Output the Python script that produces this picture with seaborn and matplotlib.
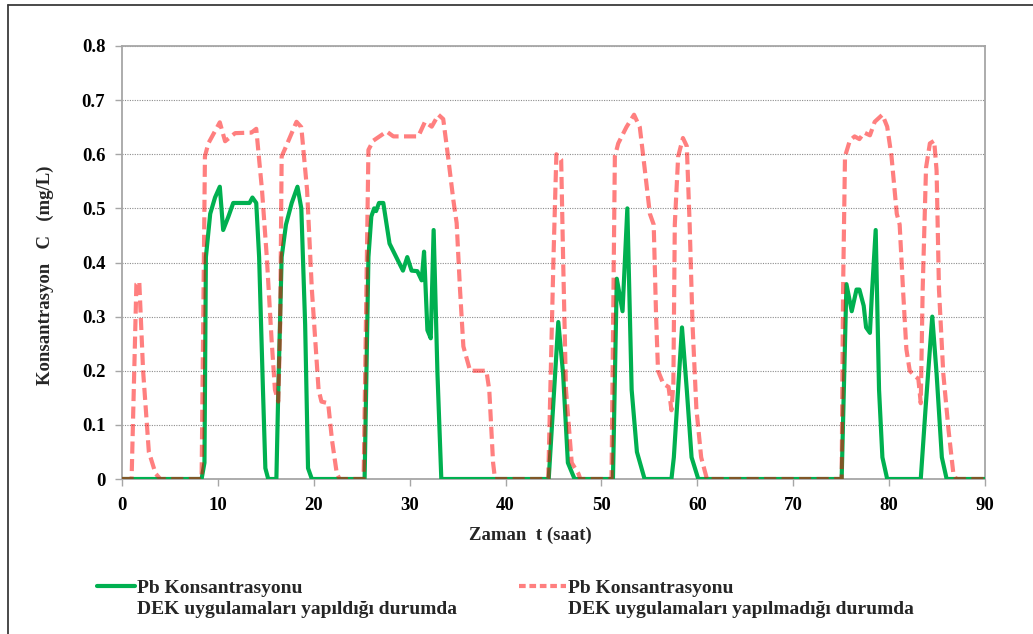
import matplotlib
matplotlib.use("Agg")
import matplotlib.pyplot as plt
import seaborn as sns
from matplotlib.lines import Line2D

# ---- data (time in hours, concentration in mg/L) ----
t_dek = [0, 8.3, 8.6, 8.75, 9.2, 9.7, 10.2, 10.55, 11.1, 11.6, 13.3, 13.6, 14.0, 14.3, 14.7, 14.95, 15.25,
         16.1, 16.3, 16.65, 17.1, 17.7, 18.3, 18.7, 19.1, 19.4, 19.8,
         25.3, 25.7, 26.0, 26.3, 26.5, 26.8, 27.25, 27.9, 28.6, 29.3, 29.75, 30.2, 30.8, 31.25, 31.5, 31.85, 32.2, 32.5, 32.9, 33.3,
         44.5, 45.5, 46.0, 46.5, 47.2,
         51.2, 51.6, 52.2, 52.7, 53.15, 53.7, 54.5,
         57.3, 57.55, 58.4, 58.9, 59.4, 60.1,
         75.05, 75.55, 76.1, 76.6, 76.9, 77.35, 77.6, 78.0, 78.2, 78.6, 78.95, 79.3, 79.8,
         83.3, 83.8, 84.5, 84.95, 85.5, 86.0, 90]
c_dek = [0, 0, 0.03, 0.41, 0.49, 0.52, 0.54, 0.46, 0.485, 0.51, 0.51, 0.52, 0.51, 0.41, 0.165, 0.02, 0,
         0, 0.165, 0.41, 0.47, 0.51, 0.54, 0.50, 0.285, 0.02, 0,
         0, 0.41, 0.485, 0.50, 0.495, 0.51, 0.51, 0.435, 0.41, 0.385, 0.41, 0.385, 0.384, 0.367, 0.42, 0.275, 0.26, 0.46, 0.194, 0,
         0, 0.29, 0.195, 0.03, 0,
         0, 0.37, 0.31, 0.50, 0.165, 0.05, 0,
         0, 0.04, 0.28, 0.165, 0.04, 0,
         0, 0.36, 0.31, 0.35, 0.35, 0.32, 0.28, 0.27, 0.34, 0.46, 0.165, 0.04, 0,
         0, 0.13, 0.30, 0.195, 0.04, 0, 0]

t_nodek = [0, 1.0, 1.5, 1.8, 2.2, 2.8, 3.5, 4.0,
           8.3, 8.65, 9.0, 10.2, 10.75, 11.8, 13.5, 14.0, 14.6, 15.1, 15.6, 15.95, 16.3, 16.5, 16.65, 17.0, 18.2, 18.7,
           19.3, 19.8, 20.5, 20.8, 21.5, 21.9, 22.4, 22.7,
           25.2, 25.7, 26.2, 27.6, 28.3, 30.9, 31.6, 32.3, 33.0, 33.5, 34.0, 34.55, 34.9, 35.25, 35.6, 36.3, 38.0, 38.3, 38.7, 38.9,
           44.45, 45.0, 45.3, 45.8, 46.0, 46.3, 46.9, 47.6, 47.8,
           51.05, 51.4, 51.75, 52.6, 53.4, 54.0, 54.5, 55.05, 55.45, 55.7, 55.9, 56.45, 57.0, 57.3, 57.5, 57.65, 58.0,
           58.5, 58.9, 59.2, 59.5, 59.9, 60.4, 61.0,
           75.05, 75.2, 75.4, 75.9, 76.4, 76.9, 77.4, 78.0, 78.5, 79.3, 79.8, 80.25, 80.8, 81.1, 81.45, 81.8, 82.15,
           82.7, 83.05, 83.3, 83.5, 83.85, 84.25, 84.7, 84.95, 85.2, 85.65, 86.2, 86.7, 87.0, 90]
c_nodek = [0, 0, 0.36, 0.365, 0.2, 0.05, 0.01, 0,
           0, 0.596, 0.62, 0.659, 0.624, 0.639, 0.64, 0.647, 0.534, 0.41, 0.257, 0.165, 0.143, 0.288, 0.596, 0.61, 0.66, 0.65,
           0.534, 0.35, 0.165, 0.143, 0.14, 0.072, 0.01, 0,
           0, 0.608, 0.625, 0.642, 0.633, 0.633, 0.66, 0.651, 0.673, 0.665, 0.596, 0.516, 0.473, 0.35, 0.245, 0.2, 0.2, 0.165, 0.03, 0,
           0, 0.41, 0.6, 0.59, 0.41, 0.165, 0.03, 0.01, 0,
           0, 0.596, 0.62, 0.65, 0.673, 0.65, 0.575, 0.49, 0.47, 0.3, 0.2, 0.176, 0.17, 0.127, 0.176, 0.47,
           0.596, 0.63, 0.615, 0.47, 0.285, 0.13, 0.04, 0,
           0, 0.35, 0.596, 0.625, 0.633, 0.628, 0.64, 0.635, 0.66, 0.673, 0.651, 0.596, 0.49, 0.47, 0.35, 0.24, 0.2,
           0.19, 0.185, 0.14, 0.35, 0.575, 0.62, 0.625, 0.57, 0.35, 0.195, 0.09, 0.01, 0, 0]

x_ticks = [0, 10, 20, 30, 40, 50, 60, 70, 80, 90]
y_ticks = [0, 0.1, 0.2, 0.3, 0.4, 0.5, 0.6, 0.7, 0.8]
y_tick_labels = ["0", "0.1", "0.2", "0.3", "0.4", "0.5", "0.6", "0.7", "0.8"]
x_label = "Zaman  t (saat)"
y_label = "Konsantrasyon   C   (mg/L)"
legend_line1 = ["Pb Konsantrasyonu", "Pb Konsantrasyonu"]
legend_line2 = ["DEK uygulamaları yapıldığı durumda", "DEK uygulamaları yapılmadığı durumda"]

assert len(t_dek) == len(c_dek), (len(t_dek), len(c_dek))
assert len(t_nodek) == len(c_nodek), (len(t_nodek), len(c_nodek))

# ---- style ----
sns.set_theme(style="white")
plt.rcParams['font.family'] = ['Liberation Serif', 'DejaVu Serif']
plt.rcParams['font.weight'] = 'bold'
plt.rcParams['axes.labelweight'] = 'bold'

W, H = 1033, 634
fig = plt.figure(figsize=(W / 100, H / 100), dpi=100)
ax = fig.add_axes([122 / W, 1 - 479 / H, 863 / W, 433 / H])

green = '#00B050'
sns.lineplot(x=t_dek, y=c_dek, ax=ax, color=green, lw=3, sort=False, estimator=None, zorder=3)
sns.lineplot(x=t_nodek, y=c_nodek, ax=ax, color='red', alpha=0.5, lw=3, sort=False, estimator=None, zorder=4)
red_line = ax.lines[-1]
red_line.set_dashes((2.9, 1.3))

ax.set_xlim(0, 90)
ax.set_ylim(0, 0.8)
ax.set_xticks(x_ticks)
ax.set_yticks(y_ticks)
ax.set_yticklabels(y_tick_labels)

ax.yaxis.grid(True, color='#8c8c8c', lw=0.8, ls=(0, (1, 1.2)))
ax.xaxis.grid(False)
ax.set_axisbelow(True)

for s in ax.spines.values():
    s.set_visible(True)
    s.set_color('#A6A6A6')
    s.set_linewidth(1.3)

ax.tick_params(axis='both', which='major', direction='out', length=5, width=1.0,
               color='#A6A6A6', labelsize=13.5, labelcolor='black', bottom=True, left=True)
ax.tick_params(axis='x', pad=8)
ax.tick_params(axis='y', pad=7)

ax.set_xlabel(x_label, fontsize=13.5, fontweight='bold', va='center')
ax.set_ylabel(y_label, fontsize=13.5, fontweight='bold', va='center')
ax.xaxis.set_label_coords(0.473, -0.129)
ax.yaxis.set_label_coords(-0.089, 0.471)

# ---- legend ----
LFS = 14
h_green = Line2D([], [], color=green, lw=3)
h_red = Line2D([], [], color='red', alpha=0.5, lw=3, dashes=(1.6, 0.9))
leg1 = fig.legend(handles=[h_green], labels=[legend_line1[0]], loc='center left',
                  bbox_to_anchor=(97 / W, 1 - 588 / H), frameon=False, borderpad=0,
                  borderaxespad=0, handlelength=1.95, handletextpad=0.12,
                  prop={'size': LFS, 'weight': 'bold'})
leg2 = fig.legend(handles=[h_red], labels=[legend_line1[1]], loc='center left',
                  bbox_to_anchor=(519 / W, 1 - 588 / H), frameon=False, borderpad=0,
                  borderaxespad=0, handlelength=2.4, handletextpad=0.12,
                  prop={'size': LFS, 'weight': 'bold'})

fig.canvas.draw()
for leg, txt in zip([leg1, leg2], legend_line2):
    bb = leg.get_texts()[0].get_window_extent()
    fig.text(bb.x0 / W, 1 - 610 / H, txt, fontsize=LFS, fontweight='bold', va='center', ha='left')

# ---- outer frame (left and top) ----
fig.add_artist(Line2D([8 / W, 8 / W], [0, 1 - 5 / H], transform=fig.transFigure, color='#3a3a3a', lw=1.3))
fig.add_artist(Line2D([8 / W, 1], [1 - 5 / H, 1 - 5 / H], transform=fig.transFigure, color='#3a3a3a', lw=1.3))

fig.savefig("out.png", dpi=100)
